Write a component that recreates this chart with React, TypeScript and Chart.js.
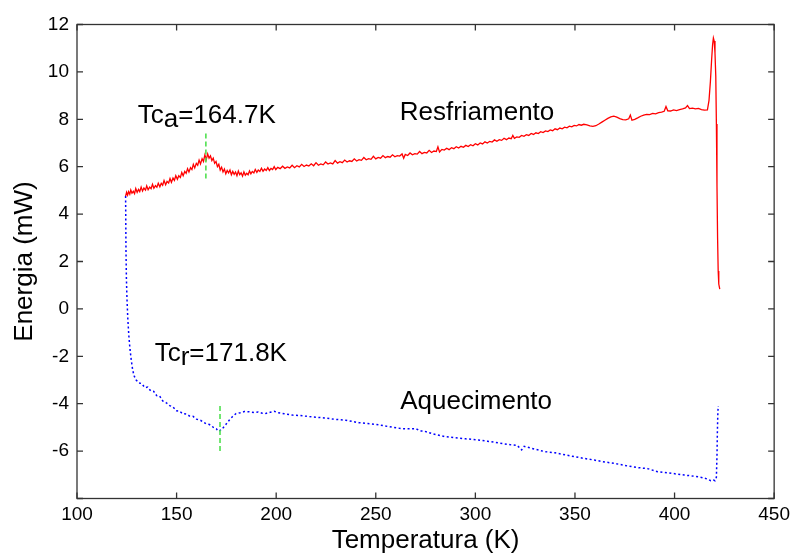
import React, { useEffect, useRef } from 'react';
import { Chart, registerables } from 'chart.js';

Chart.register(...registerables);

// Resfriamento (cooling) curve: [temperature K, energy mW]
const coolingCurve: [number, number][] = [
  [124.4, 4.76], [124.9, 4.92], [125.4, 4.80], [125.9, 4.95], [126.5, 4.84], [127.0, 5.02], [127.6, 4.88],
  [128.3, 4.96], [128.9, 4.86], [129.5, 5.08], [130.2, 4.92], [130.9, 5.04], [131.5, 4.95], [132.2, 5.14],
  [132.9, 4.97], [133.6, 5.10], [134.4, 5.01], [135.0, 5.19], [135.7, 5.03], [136.5, 5.14], [137.2, 5.07],
  [137.9, 5.26], [138.6, 5.09], [139.4, 5.20], [140.1, 5.13], [140.8, 5.30], [141.6, 5.15], [142.3, 5.30],
  [143.0, 5.22], [143.7, 5.42], [144.5, 5.24], [145.2, 5.38], [146.0, 5.31], [146.7, 5.50], [147.4, 5.34],
  [148.2, 5.52], [148.9, 5.42], [149.6, 5.62], [150.4, 5.47], [151.1, 5.62], [151.9, 5.55], [152.6, 5.76],
  [153.3, 5.62], [154.1, 5.80], [154.8, 5.72], [155.5, 5.92], [156.2, 5.78], [157.0, 5.96], [157.7, 5.88],
  [158.4, 6.10], [159.1, 5.95], [159.9, 6.14], [160.6, 6.06], [161.3, 6.28], [162.0, 6.12], [162.8, 6.34],
  [163.5, 6.22], [164.2, 6.50], [164.9, 6.30], [165.6, 6.54], [166.3, 6.36], [167.0, 6.46], [167.7, 6.26],
  [168.4, 6.36], [169.1, 6.14], [169.8, 6.22], [170.5, 6.00], [171.2, 6.10], [171.9, 5.86], [172.6, 5.98],
  [173.3, 5.78], [174.0, 5.90], [174.7, 5.70], [175.4, 5.84], [176.1, 5.74], [176.8, 5.86], [177.5, 5.66],
  [178.2, 5.80], [178.9, 5.68], [179.6, 5.78], [180.3, 5.62], [181.0, 5.82], [181.7, 5.66], [182.4, 5.74],
  [183.1, 5.60], [183.8, 5.78], [184.5, 5.64], [185.2, 5.72], [185.9, 5.66], [186.6, 5.82], [187.3, 5.70],
  [188.0, 5.80], [188.8, 5.74], [189.5, 5.88], [190.3, 5.76], [191.0, 5.86], [191.8, 5.80], [192.6, 5.94],
  [193.4, 5.81], [194.2, 5.90], [195.0, 5.84], [195.8, 5.96], [196.6, 5.84], [197.4, 5.93], [198.2, 5.88],
  [199.0, 6.00], [199.8, 5.88], [200.8, 5.97], [202.0, 5.92], [203.2, 6.02], [204.4, 5.93], [205.6, 5.99],
  [206.8, 5.95], [208.0, 6.06], [209.2, 5.96], [210.4, 6.04], [211.6, 5.99], [212.8, 6.10], [214.0, 6.01],
  [215.2, 6.07], [216.4, 6.03], [217.6, 6.12], [218.8, 6.04], [220.0, 6.17], [221.2, 6.06], [222.4, 6.12],
  [223.6, 6.08], [224.8, 6.20], [226.0, 6.11], [227.2, 6.16], [228.4, 6.12], [229.6, 6.26], [230.8, 6.15],
  [232.0, 6.21], [233.2, 6.17], [234.4, 6.28], [235.6, 6.20], [236.8, 6.25], [238.0, 6.22], [239.2, 6.33],
  [240.4, 6.24], [241.6, 6.30], [242.8, 6.27], [244.0, 6.39], [245.2, 6.29], [246.4, 6.34], [247.6, 6.31],
  [248.8, 6.44], [250.0, 6.33], [251.2, 6.39], [252.4, 6.36], [253.6, 6.47], [254.8, 6.38], [256.0, 6.43],
  [257.2, 6.40], [258.4, 6.50], [259.6, 6.42], [260.8, 6.47], [262.0, 6.45], [263.2, 6.54], [264.0, 6.36],
  [264.8, 6.52], [266.0, 6.47], [267.2, 6.58], [268.4, 6.50], [269.6, 6.55], [270.8, 6.53], [272.0, 6.64],
  [273.2, 6.55], [274.4, 6.60], [275.6, 6.58], [276.8, 6.69], [278.0, 6.60], [279.2, 6.66], [280.4, 6.64],
  [281.2, 6.84], [282.0, 6.62], [283.2, 6.73], [284.4, 6.70], [285.6, 6.78], [286.8, 6.72], [288.0, 6.80],
  [289.2, 6.76], [290.4, 6.84], [291.6, 6.79], [292.8, 6.86], [294.0, 6.82], [295.2, 6.90], [296.4, 6.85],
  [297.6, 6.93], [298.8, 6.88], [300.0, 6.97], [301.2, 6.92], [302.4, 7.00], [303.6, 6.96], [304.8, 7.05],
  [306.0, 7.00], [307.2, 7.07], [308.4, 7.04], [309.6, 7.13], [310.8, 7.07], [312.0, 7.14], [313.2, 7.11],
  [314.4, 7.20], [315.6, 7.14], [316.8, 7.21], [318.0, 7.18], [318.8, 7.32], [319.6, 7.20], [320.8, 7.26],
  [322.0, 7.24], [323.2, 7.32], [324.4, 7.28], [325.6, 7.35], [326.8, 7.32], [328.0, 7.40], [329.2, 7.36],
  [330.4, 7.43], [331.6, 7.40], [332.8, 7.48], [334.0, 7.44], [335.2, 7.51], [336.4, 7.48], [337.6, 7.55],
  [338.8, 7.52], [340.0, 7.60], [341.2, 7.56], [342.4, 7.63], [343.6, 7.60], [344.8, 7.67], [346.0, 7.64],
  [347.2, 7.71], [348.4, 7.68], [349.6, 7.74], [350.8, 7.72], [352.0, 7.78], [353.2, 7.75], [354.4, 7.79],
  [356.0, 7.76], [357.5, 7.72], [359.0, 7.70], [360.5, 7.73], [362.0, 7.80], [363.5, 7.88], [365.0, 7.96],
  [366.5, 8.04], [368.0, 8.10], [369.5, 8.13], [371.0, 8.09], [372.5, 8.03], [374.0, 7.99], [375.5, 7.98],
  [377.0, 8.02], [377.8, 8.18], [378.6, 7.96], [380.0, 8.00], [381.5, 8.06], [383.0, 8.13], [384.5, 8.18],
  [386.0, 8.21], [387.5, 8.20], [389.0, 8.25], [390.5, 8.23], [392.0, 8.28], [393.5, 8.30], [394.8, 8.34],
  [395.7, 8.54], [396.6, 8.36], [398.0, 8.35], [399.5, 8.40], [401.0, 8.37], [402.5, 8.41], [404.0, 8.44],
  [405.5, 8.48], [406.5, 8.58], [407.5, 8.45], [409.0, 8.47], [410.5, 8.44], [412.0, 8.46], [413.5, 8.41],
  [415.0, 8.39], [416.5, 8.40], [417.3, 8.80], [418.0, 9.60], [418.6, 10.50], [419.1, 11.15], [419.5, 11.43],
  [419.9, 11.30], [420.3, 10.80], [420.7, 9.80], [421.0, 7.80], [421.3, 5.20], [421.6, 3.00], [421.9, 1.60],
  [422.2, 1.05], [422.7, 0.83],
];

// Aquecimento (heating) curve: [temperature K, energy mW]
const heatingCurve: [number, number][] = [
  [124.4, 4.76], [124.5, 3.6], [124.6, 2.4], [124.8, 1.3], [125.1, 0.4], [125.5, -0.4], [126.0, -1.1],
  [126.6, -1.7], [127.3, -2.2], [128.0, -2.6], [128.8, -2.85], [129.7, -3.0], [131.0, -3.12], [132.5, -3.15],
  [134.0, -3.32], [135.5, -3.30], [137.0, -3.46], [138.5, -3.48], [140.0, -3.66], [141.5, -3.68], [143.0, -3.88],
  [144.8, -3.96], [146.5, -4.08], [148.0, -4.12], [150.0, -4.30], [151.5, -4.31], [153.0, -4.42], [155.0, -4.44],
  [156.5, -4.52], [158.2, -4.53], [160.0, -4.65], [162.0, -4.70], [164.8, -4.85], [166.5, -4.88], [168.5, -5.00],
  [170.0, -5.06], [170.7, -5.16], [171.5, -5.14], [172.3, -5.11], [173.5, -5.0], [175.0, -4.85], [176.5, -4.69],
  [178.0, -4.55], [179.8, -4.42], [182.0, -4.38], [184.0, -4.33], [186.5, -4.34], [189.0, -4.37], [191.0, -4.35],
  [193.0, -4.40], [194.8, -4.41], [197.0, -4.36], [199.0, -4.32], [201.0, -4.38], [204.0, -4.42], [208.2, -4.48],
  [212.0, -4.50], [216.0, -4.54], [219.8, -4.57], [224.0, -4.60], [229.8, -4.66], [235.0, -4.70], [241.5, -4.80],
  [246.0, -4.84], [249.8, -4.87], [252.0, -4.90], [256.0, -4.96], [259.0, -5.00], [263.0, -5.05], [266.5, -5.06],
  [270.0, -5.05], [272.3, -5.15], [274.0, -5.15], [279.0, -5.28], [284.8, -5.39], [290.0, -5.44], [295.0, -5.48],
  [301.5, -5.53], [306.0, -5.58], [312.0, -5.66], [318.2, -5.74], [321.0, -5.76], [323.2, -5.95], [324.5, -5.80],
  [329.0, -5.90], [334.8, -6.02], [340.0, -6.07], [348.2, -6.21], [354.0, -6.30], [359.8, -6.38], [365.0, -6.46],
  [370.0, -6.52], [376.5, -6.63], [382.0, -6.70], [386.5, -6.74], [391.5, -6.87], [397.0, -6.92], [404.8, -7.01],
  [410.0, -7.06], [414.0, -7.12], [416.5, -7.18], [418.2, -7.25], [419.5, -7.22], [420.3, -7.25], [421.0, -7.10],
  [421.3, -6.20], [421.5, -5.20], [421.7, -4.50], [421.9, -4.10],
];

// Transition temperature markers
const tcCooling: [number, number][] = [[164.7, 5.5], [164.7, 7.5]];
const tcHeating: [number, number][] = [[171.8, -6.0], [171.8, -4.0]];

const xTicks = [100, 150, 200, 250, 300, 350, 400, 450];
const yTicks = [-8, -6, -4, -2, 0, 2, 4, 6, 8, 10, 12];

const FONT = '"Liberation Sans", Arial, Helvetica, sans-serif';

const toPoints = (arr: [number, number][]) => arr.map(([x, y]) => ({ x, y }));

function drawSubText(ctx: CanvasRenderingContext2D, x: number, y: number, a: string, sub: string, b: string) {
  ctx.fillText(a, x, y);
  let w = ctx.measureText(a).width;
  ctx.fillText(sub, x + w, y + 4);
  w += ctx.measureText(sub).width;
  ctx.fillText(b, x + w, y);
}

const framePlugin = {
  id: 'frameAndLabels',
  afterDraw(chart: any) {
    const { ctx, chartArea, scales } = chart;
    const { left, right, top, bottom } = chartArea;
    const xs = scales.x;
    const ys = scales.y;
    ctx.save();
    ctx.strokeStyle = '#333333';
    ctx.lineWidth = 1.3;
    ctx.strokeRect(left, top, right - left, bottom - top);
    ctx.beginPath();
    const tl = 6;
    for (const t of xTicks) {
      const px = xs.getPixelForValue(t);
      ctx.moveTo(px, bottom);
      ctx.lineTo(px, bottom - tl);
      ctx.moveTo(px, top);
      ctx.lineTo(px, top + tl);
    }
    for (const t of yTicks) {
      const py = ys.getPixelForValue(t);
      ctx.moveTo(left, py);
      ctx.lineTo(left + tl, py);
      ctx.moveTo(right, py);
      ctx.lineTo(right - tl, py);
    }
    ctx.stroke();

    ctx.fillStyle = '#000';
    ctx.font = `26px ${FONT}`;
    ctx.textAlign = 'left';
    ctx.textBaseline = 'alphabetic';
    drawSubText(ctx, xs.getPixelForValue(130.5), ys.getPixelForValue(7.84), 'Tc', 'a', '=164.7K');
    drawSubText(ctx, xs.getPixelForValue(139), ys.getPixelForValue(-2.19), 'Tc', 'r', '=171.8K');
    ctx.fillText('Resfriamento', xs.getPixelForValue(262), ys.getPixelForValue(7.98));
    ctx.fillText('Aquecimento', xs.getPixelForValue(262.3), ys.getPixelForValue(-4.24));
    ctx.restore();
  },
};

export default function App() {
  const canvasRef = useRef<HTMLCanvasElement | null>(null);

  useEffect(() => {
    const canvas = canvasRef.current;
    if (!canvas) return;
    const chart = new Chart(canvas, {
      type: 'line',
      data: {
        datasets: [
          {
            label: 'Tc_a',
            data: toPoints(tcCooling),
            borderColor: '#4fe04f',
            borderWidth: 1.6,
            borderDash: [5, 3],
            pointRadius: 0,
          },
          {
            label: 'Tc_r',
            data: toPoints(tcHeating),
            borderColor: '#4fe04f',
            borderWidth: 1.6,
            borderDash: [5, 3],
            pointRadius: 0,
          },
          {
            label: 'Resfriamento',
            data: toPoints(coolingCurve),
            borderColor: '#ff0000',
            borderWidth: 1.3,
            pointRadius: 0,
          },
          {
            label: 'Aquecimento',
            data: toPoints(heatingCurve),
            borderColor: '#0000ff',
            borderWidth: 1.5,
            borderDash: [2, 2.5],
            pointRadius: 0,
          },
        ],
      },
      options: {
        responsive: false,
        animation: false,
        events: [],
        layout: { padding: { left: 0, top: 24.5, right: 19, bottom: 0 } },
        plugins: {
          legend: { display: false },
          tooltip: { enabled: false },
        },
        elements: { line: { tension: 0 } },
        scales: {
          x: {
            type: 'linear',
            min: 100,
            max: 450,
            grid: { display: false, drawTicks: false },
            border: { display: false },
            afterBuildTicks: (scale: any) => {
              scale.ticks = xTicks.map((v) => ({ value: v }));
            },
            afterFit: (scale: any) => {
              scale.height = 55.5;
            },
            ticks: {
              color: '#000',
              padding: 5,
              maxRotation: 0,
              autoSkip: false,
              font: { family: FONT, size: 19 },
            },
            title: {
              display: true,
              text: 'Temperatura (K)',
              color: '#000',
              font: { family: FONT, size: 26, lineHeight: 1 },
              padding: { top: 0, bottom: 0 },
            },
          },
          y: {
            type: 'linear',
            min: -8,
            max: 12,
            grid: { display: false, drawTicks: false },
            border: { display: false },
            afterBuildTicks: (scale: any) => {
              scale.ticks = yTicks.map((v) => ({ value: v }));
            },
            afterFit: (scale: any) => {
              scale.width = 77;
            },
            ticks: {
              color: '#000',
              padding: 8,
              autoSkip: false,
              font: { family: FONT, size: 19 },
              callback: (v: any) => (Number(v) === -8 ? '' : String(v)),
            },
            title: {
              display: true,
              text: 'Energia (mW)',
              color: '#000',
              font: { family: FONT, size: 26, lineHeight: 1 },
              padding: { top: 12, bottom: 0 },
            },
          },
        },
      },
      plugins: [framePlugin],
    });
    return () => chart.destroy();
  }, []);

  return (
    <div style={{ position: 'fixed', left: 0, top: 0, width: 795, height: 554, background: '#fff' }}>
      <canvas ref={canvasRef} width={795} height={554} style={{ width: 795, height: 554, display: 'block' }} />
    </div>
  );
}
